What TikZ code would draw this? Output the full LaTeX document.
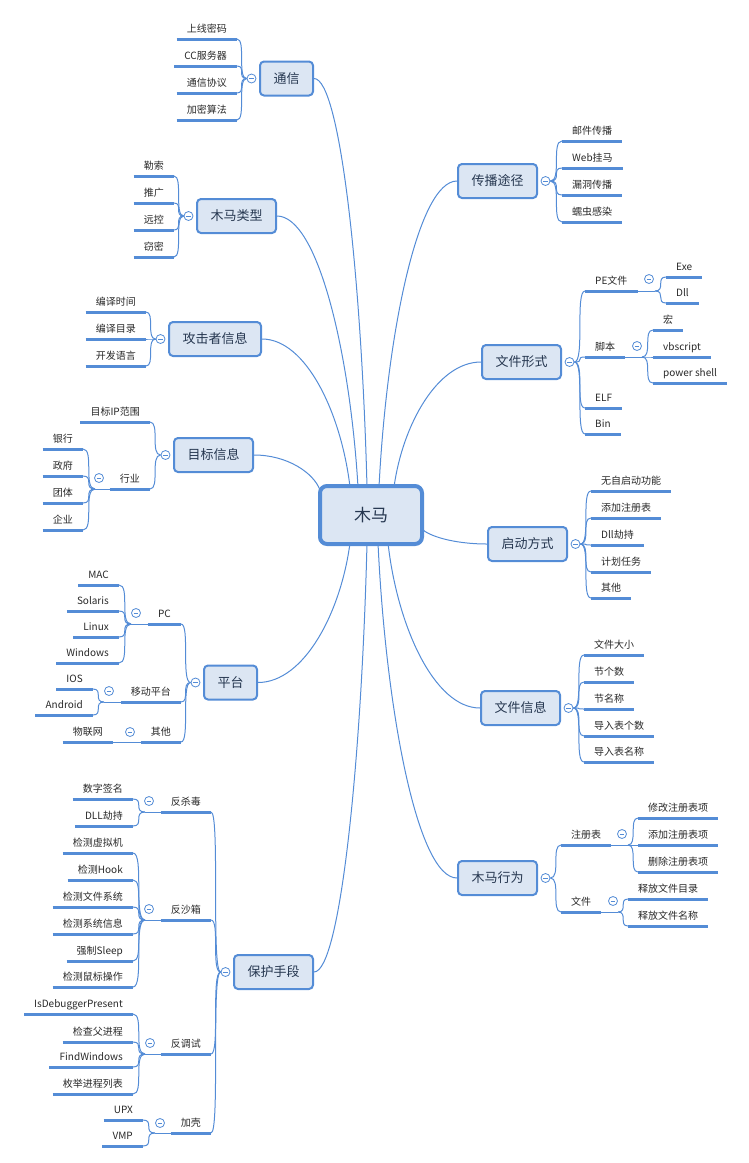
\documentclass[tikz,border=0pt]{standalone}
\usepackage{fontspec}
\setmainfont{Noto Sans CJK SC}
\usetikzlibrary{calc}
\pgfdeclarelayer{bg}
\pgfsetlayers{bg,main}
\definecolor{lb}{RGB}{84,140,214}
\definecolor{bf}{RGB}{220,230,243}
\definecolor{tx}{RGB}{40,40,40}
\definecolor{bt}{RGB}{38,55,80}
\tikzset{
  thinl/.style={draw=lb, line width=1pt},
  uline/.style={draw=lb, line width=3pt},
  leafR/.style={font=\fontsize{10}{12}\selectfont, text=tx, inner xsep=10pt, inner ysep=4pt,
    text height=8.5pt, text depth=2pt, anchor=south west,
    append after command={(\tikzlastnode.south west) edge[uline] (\tikzlastnode.south east)}},
  leafL/.style={leafR, anchor=south east},
  topic/.style={draw=lb, fill=bf, line width=2pt, rounded corners=4pt,
    font=\fontsize{13}{15}\selectfont, text=bt, inner xsep=13.5pt, minimum height=34pt},
  rootbox/.style={draw=lb, fill=bf, line width=4pt, rounded corners=7pt,
    font=\fontsize{17}{20}\selectfont, text=bt, minimum width=102pt, minimum height=58pt},
  coll/.style={circle, draw=lb, line width=0.8pt, fill=white, minimum size=9pt, inner sep=0pt,
    path picture={\draw[lb, line width=0.8pt] ([xshift=2.2pt]path picture bounding box.west) -- ([xshift=-2.2pt]path picture bounding box.east);}},
}
\newcommand\mmbr[2]{\draw[thinl] let \p1=(#1), \p2=(#2) in (\p1) .. controls ({\x1+1.0*(\x2-\x1)},{\y1}) and ({\x1+0.05*(\x2-\x1)},{\y2}) .. (\p2);}
\newcommand\mmmain[2]{\draw[thinl] let \p1=(#1), \p2=(#2) in (\p1) .. controls ({\x1+0.5*(\x2-\x1)},{\y1}) and ({\x2-0.1*(\x2-\x1)},{\y2-0.5*(\y2-\y1)}) .. (\p2);}
\begin{document}
\begin{tikzpicture}[x=1pt,y=-1pt]
\useasboundingbox (0,0) rectangle (748,1163);
% root
\node[rootbox] (root) at (371,515) {木马};
\coordinate (e1) at (367,487);
\coordinate (e2) at (358,487);
\coordinate (e3) at (350,487);
\coordinate (e4) at (320,490);
\coordinate (e5) at (379,487);
\coordinate (e6) at (394,487);
\coordinate (e7) at (421,528);
\coordinate (e8) at (350,543);
\coordinate (e9) at (367,543);
\coordinate (e10) at (378,543);
\coordinate (e11) at (388,543);

% ===== right side =====
\node[topic] (ts) at (497.5,181) {传播途径};
\node[coll] (cts) at ([xshift=7.5pt]ts.east) {};
\node[leafR] (ts1) at (562,141) {邮件传播};
\node[leafR] (ts2) at (562,168) {Web挂马};
\node[leafR] (ts3) at (562,195) {漏洞传播};
\node[leafR] (ts4) at (562,222) {蠕虫感染};

\node[topic] (ff) at (521.5,362) {文件形式};
\node[coll] (cff) at ([xshift=7.5pt]ff.east) {};
\node[leafR] (ff1) at (585,291) {PE文件};
\node[leafR] (ff2) at (585,357) {脚本};
\node[leafR] (ff3) at (585,408) {ELF};
\node[leafR] (ff4) at (585,434) {Bin};
\node[coll] (cff1) at (649,279) {};
\coordinate (jff1) at (655,291);
\node[leafR] (ff11) at (666,277) {Exe};
\node[leafR] (ff12) at (666,303) {Dll};
\node[coll] (cff2) at (637,346) {};
\coordinate (jff2) at (642,357);
\node[leafR] (ff21) at (653,330) {宏};
\node[leafR] (ff22) at (653,357) {vbscript};
\node[leafR] (ff23) at (653,383) {power shell};

\node[topic] (qd) at (527.5,544) {启动方式};
\node[coll] (cqd) at ([xshift=7.5pt]qd.east) {};
\node[leafR] (qd1) at (591,491) {无自启动功能};
\node[leafR] (qd2) at (591,518) {添加注册表};
\node[leafR] (qd3) at (591,545) {Dll劫持};
\node[leafR] (qd4) at (591,572) {计划任务};
\node[leafR] (qd5) at (591,598) {其他};

\node[topic] (xx) at (520.5,708) {文件信息};
\node[coll] (cxx) at ([xshift=7.5pt]xx.east) {};
\node[leafR] (xx1) at (584,655) {文件大小};
\node[leafR] (xx2) at (584,682) {节个数};
\node[leafR] (xx3) at (584,709) {节名称};
\node[leafR] (xx4) at (584,736) {导入表个数};
\node[leafR] (xx5) at (584,762) {导入表名称};

\node[topic] (xw) at (497.5,878) {木马行为};
\node[coll] (cxw) at ([xshift=7.5pt]xw.east) {};
\node[leafR] (xw1) at (561,845) {注册表};
\node[leafR] (xw2) at (561,912) {文件};
\node[coll] (cxw1) at (622,834) {};
\coordinate (jxw1) at (628,845);
\node[leafR] (xw11) at (638,818) {修改注册表项};
\node[leafR] (xw12) at (638,845) {添加注册表项};
\node[leafR] (xw13) at (638,872) {删除注册表项};
\node[coll] (cxw2) at (613,901) {};
\coordinate (jxw2) at (618,912);
\node[leafR] (xw21) at (628,899) {释放文件目录};
\node[leafR] (xw22) at (628,926) {释放文件名称};

% ===== left side =====
\node[topic] (tx) at (286.5,78.5) {通信};
\node[coll] (ctx) at ([xshift=-7.5pt]tx.west) {};
\node[leafL] (tx1) at (237,39) {上线密码};
\node[leafL] (tx2) at (237,66) {CC服务器};
\node[leafL] (tx3) at (237,93) {通信协议};
\node[leafL] (tx4) at (237,120) {加密算法};

\node[topic] (lx) at (236.5,216) {木马类型};
\node[coll] (clx) at ([xshift=-7.5pt]lx.west) {};
\node[leafL] (lx1) at (174,176) {勒索};
\node[leafL] (lx2) at (174,203) {推广};
\node[leafL] (lx3) at (174,230) {远控};
\node[leafL] (lx4) at (174,257) {窃密};

\node[topic] (gj) at (215,339) {攻击者信息};
\node[coll] (cgj) at ([xshift=-7.5pt]gj.west) {};
\node[leafL] (gj1) at (146,312) {编译时间};
\node[leafL] (gj2) at (146,339) {编译目录};
\node[leafL] (gj3) at (146,366) {开发语言};

\node[topic] (mb) at (213.5,455) {目标信息};
\node[coll] (cmb) at ([xshift=-7.5pt]mb.west) {};
\node[leafL] (mb1) at (150,422) {目标IP范围};
\node[leafL] (mb2) at (150,489) {行业};
\node[coll] (cmb2) at (99,478) {};
\coordinate (jmb2) at (95,489);
\node[leafL] (mb21) at (83,449) {银行};
\node[leafL] (mb22) at (83,476) {政府};
\node[leafL] (mb23) at (83,503) {团体};
\node[leafL] (mb24) at (83,530) {企业};

\node[topic] (pt) at (230.5,682.5) {平台};
\node[coll] (cpt) at ([xshift=-7.5pt]pt.west) {};
\node[leafL] (pt1) at (181,624) {PC};
\node[leafL] (pt2) at (181,702) {移动平台};
\node[leafL] (pt3) at (181,742) {其他};
\node[coll] (cpt1) at (136,613) {};
\coordinate (jpt1) at (131,624);
\node[leafL] (pt11) at (119,585) {MAC};
\node[leafL] (pt12) at (119,611) {Solaris};
\node[leafL] (pt13) at (119,637) {Linux};
\node[leafL] (pt14) at (119,663) {Windows};
\node[coll] (cpt2) at (109,691) {};
\coordinate (jpt2) at (104,702);
\node[leafL] (pt21) at (93,689) {IOS};
\node[leafL] (pt22) at (93,715) {Android};
\node[coll] (cpt3) at (130,732) {};
\node[leafL] (pt31) at (113,742) {物联网};

\node[topic] (bh) at (273.5,972) {保护手段};
\node[coll] (cbh) at ([xshift=-7.5pt]bh.west) {};
\node[leafL] (bh1) at (211,812) {反杀毒};
\node[leafL] (bh2) at (211,920) {反沙箱};
\node[leafL] (bh3) at (211,1054) {反调试};
\node[leafL] (bh4) at (211,1133) {加壳};
\node[coll] (cbh1) at (149,801) {};
\coordinate (jbh1) at (145,812);
\node[leafL] (bh11) at (133,799) {数字签名};
\node[leafL] (bh12) at (133,826) {DLL劫持};
\node[coll] (cbh2) at (149,909) {};
\coordinate (jbh2) at (145,920);
\node[leafL] (bh21) at (133,853) {检测虚拟机};
\node[leafL] (bh22) at (133,880) {检测Hook};
\node[leafL] (bh23) at (133,907) {检测文件系统};
\node[leafL] (bh24) at (133,934) {检测系统信息};
\node[leafL] (bh25) at (133,961) {强制Sleep};
\node[leafL] (bh26) at (133,987) {检测鼠标操作};
\node[coll] (cbh3) at (150,1043) {};
\coordinate (jbh3) at (145,1054);
\node[leafL] (bh31) at (133,1014) {IsDebuggerPresent};
\node[leafL] (bh32) at (133,1042) {检查父进程};
\node[leafL] (bh33) at (133,1067) {FindWindows};
\node[leafL] (bh34) at (133,1094) {枚举进程列表};
\node[coll] (cbh4) at (160,1123) {};
\coordinate (jbh4) at (155,1133);
\node[leafL] (bh41) at (143,1120) {UPX};
\node[leafL] (bh42) at (143,1146) {VMP};

\begin{pgfonlayer}{bg}
% main connectors
\mmmain{tx.east}{e1}
\mmmain{lx.east}{e2}
\mmmain{gj.east}{e3}
\mmmain{mb.east}{e4}
\mmmain{ts.west}{e5}
\mmmain{ff.west}{e6}
\mmmain{qd.west}{e7}
\mmmain{pt.east}{e8}
\mmmain{bh.east}{e9}
\mmmain{xw.west}{e10}
\mmmain{xx.west}{e11}
% right branches
\foreach \k in {ts1,ts2,ts3,ts4}{\mmbr{cts.east}{\k.south west}}
\foreach \k in {ff1,ff2,ff3,ff4}{\mmbr{cff.east}{\k.south west}}
\draw[thinl] (ff1.south east) -- (jff1);
\foreach \k in {ff11,ff12}{\mmbr{jff1}{\k.south west}}
\draw[thinl] (ff2.south east) -- (jff2);
\foreach \k in {ff21,ff22,ff23}{\mmbr{jff2}{\k.south west}}
\foreach \k in {qd1,qd2,qd3,qd4,qd5}{\mmbr{cqd.east}{\k.south west}}
\foreach \k in {xx1,xx2,xx3,xx4,xx5}{\mmbr{cxx.east}{\k.south west}}
\foreach \k in {xw1,xw2}{\mmbr{cxw.east}{\k.south west}}
\draw[thinl] (xw1.south east) -- (jxw1);
\foreach \k in {xw11,xw12,xw13}{\mmbr{jxw1}{\k.south west}}
\draw[thinl] (xw2.south east) -- (jxw2);
\foreach \k in {xw21,xw22}{\mmbr{jxw2}{\k.south west}}
% left branches
\foreach \k in {tx1,tx2,tx3,tx4}{\mmbr{ctx.west}{\k.south east}}
\foreach \k in {lx1,lx2,lx3,lx4}{\mmbr{clx.west}{\k.south east}}
\foreach \k in {gj1,gj2,gj3}{\mmbr{cgj.west}{\k.south east}}
\foreach \k in {mb1,mb2}{\mmbr{cmb.west}{\k.south east}}
\draw[thinl] (mb2.south west) -- (jmb2);
\foreach \k in {mb21,mb22,mb23,mb24}{\mmbr{jmb2}{\k.south east}}
\foreach \k in {pt1,pt2,pt3}{\mmbr{cpt.west}{\k.south east}}
\draw[thinl] (pt1.south west) -- (jpt1);
\foreach \k in {pt11,pt12,pt13,pt14}{\mmbr{jpt1}{\k.south east}}
\draw[thinl] (pt2.south west) -- (jpt2);
\foreach \k in {pt21,pt22}{\mmbr{jpt2}{\k.south east}}
\draw[thinl] (pt3.south west) -- (pt31.south east);
\foreach \k in {bh1,bh2,bh3,bh4}{\mmbr{cbh.west}{\k.south east}}
\draw[thinl] (bh1.south west) -- (jbh1);
\foreach \k in {bh11,bh12}{\mmbr{jbh1}{\k.south east}}
\draw[thinl] (bh2.south west) -- (jbh2);
\foreach \k in {bh21,bh22,bh23,bh24,bh25,bh26}{\mmbr{jbh2}{\k.south east}}
\draw[thinl] (bh3.south west) -- (jbh3);
\foreach \k in {bh31,bh32,bh33,bh34}{\mmbr{jbh3}{\k.south east}}
\draw[thinl] (bh4.south west) -- (jbh4);
\foreach \k in {bh41,bh42}{\mmbr{jbh4}{\k.south east}}
\end{pgfonlayer}
\end{tikzpicture}
\end{document}
